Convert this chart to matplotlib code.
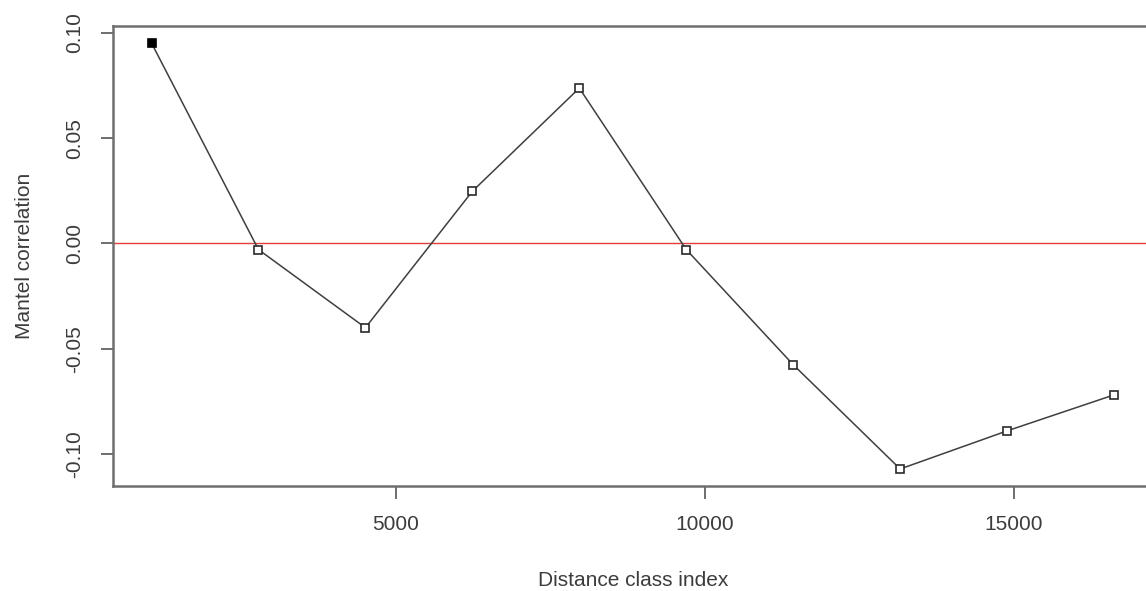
import numpy as np
import matplotlib
matplotlib.use("Agg")
import matplotlib.pyplot as plt

plt.rcParams['font.family'] = ['Liberation Sans', 'DejaVu Sans']

# Mantel correlogram values
class_index = [1051, 2781, 4511, 6241, 7971, 9701, 11431, 13161, 14891, 16621]
mantel_r = [0.0952, -0.0029, -0.0400, 0.0248, 0.0738, -0.0029, -0.0576, -0.1071, -0.0890, -0.0719]
significant = [True, False, False, False, False, False, False, False, False, False]

x_ticks = [5000, 10000, 15000]
y_ticks = [-0.10, -0.05, 0.00, 0.05, 0.10]
y_ticklabels = ["-0.10", "-0.05", "0.00", "0.05", "0.10"]

W, H = 1146, 591
fig = plt.figure(figsize=(W / 100, H / 100), dpi=100)
# right edge of the box falls just outside the picture, as in the original
ax = fig.add_axes([113 / W, 1 - 486 / H, (1152.6 - 113) / W, (486 - 26) / H])

x = np.array(class_index)
y = np.array(mantel_r)
sig = np.array(significant)

ax.axhline(0, color='#e43c3c', lw=1.0, zorder=1)
ax.plot(x, y, color='#3f3f3f', lw=1.1, zorder=2)
ax.plot(x[~sig], y[~sig], ls='none', marker='s', ms=6.4, mfc='white',
        mec='#2a2a2a', mew=1.2, zorder=3)
ax.plot(x[sig], y[sig], ls='none', marker='s', ms=6.4, mfc='black',
        mec='black', mew=1.2, zorder=3)

# R-style 4% padding of the data range
xr = x.max() - x.min()
yr = y.max() - y.min()
ax.set_xlim(x.min() - 0.04 * xr, x.max() + 0.04 * xr)
ax.set_ylim(y.min() - 0.04 * yr, y.max() + 0.04 * yr)

ax.set_xticks(x_ticks)
ax.set_xticklabels([str(v) for v in x_ticks])
ax.set_yticks(y_ticks)
ax.set_yticklabels(y_ticklabels, rotation=90, va='center')

for s in ax.spines.values():
    s.set_color('#6e6e6e')
    s.set_linewidth(1.8)

ax.tick_params(axis='both', direction='out', length=9, width=1.2,
               color='#555555', labelsize=15, labelcolor='#3c3c3c', pad=12)

ax.set_xlabel('Distance class index', fontsize=15, color='#3c3c3c')
ax.set_ylabel('Mantel correlation', fontsize=15, color='#3c3c3c')
ax.xaxis.set_label_coords(0.5, (486 - 580) / 460)
ax.xaxis.label.set_va('center')
ax.yaxis.set_label_coords((25 - 113) / 1039.6, 0.5)
ax.yaxis.label.set_va('center')

fig.savefig('out.png', dpi=100)
